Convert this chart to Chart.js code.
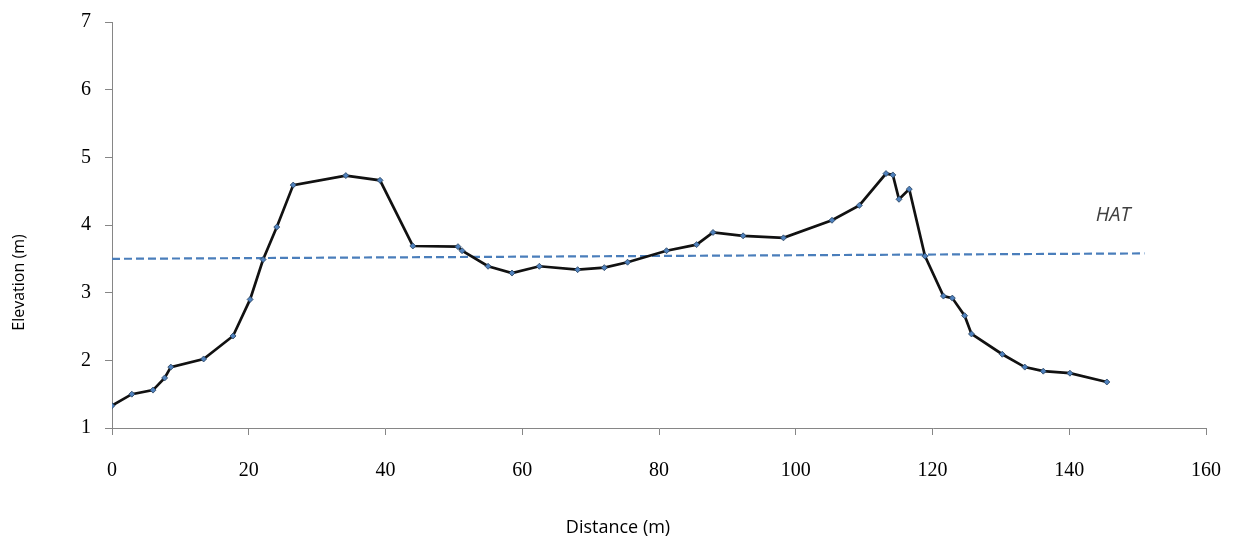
<!DOCTYPE html>
<html>
<head>
<meta charset="utf-8">
<script src="https://cdn.jsdelivr.net/npm/chart.js@4.4.1/dist/chart.umd.min.js"></script>
<style>
  body { margin: 0; background: #ffffff; }
  #wrap { width: 1236px; height: 543px; }
</style>
</head>
<body>
<div id="wrap"><canvas id="CHART1" width="1236" height="543"></canvas></div>
<script>
// DATA

// beach profile: distance (m) and elevation (m)
const distance = [0, 2.9, 6.0, 7.7, 8.6, 13.4, 17.7, 20.2, 22.1, 24.1, 26.5, 34.2, 39.2, 44.0,
    50.6, 51.2, 55.0, 58.5, 62.5, 68.1, 72.0, 75.4, 81.1, 85.5, 87.9, 92.3, 98.2,
    105.3, 109.3, 113.2, 114.2, 115.1, 116.6, 118.9, 121.6, 122.9, 124.7, 125.7,
    130.2, 133.5, 136.2, 140.1, 145.5];
const elevation = [1.33, 1.50, 1.56, 1.74, 1.90, 2.02, 2.36, 2.90, 3.49, 3.97, 4.59, 4.73, 4.66, 3.69,
    3.68, 3.62, 3.39, 3.29, 3.39, 3.34, 3.37, 3.45, 3.62, 3.71, 3.89, 3.84, 3.81,
    4.07, 4.29, 4.76, 4.74, 4.38, 4.53, 3.54, 2.95, 2.92, 2.66, 2.39,
    2.09, 1.90, 1.84, 1.81, 1.68];

// highest astronomical tide line
const hatDistance = [0, 151];
const hatElevation = [3.50, 3.58];
const hatLabel = "HAT";

// axes
const xTicks = [0, 20, 40, 60, 80, 100, 120, 140, 160];
const yTicks = [1, 2, 3, 4, 5, 6, 7];
const xTitle = "Distance (m)";
const yTitle = "Elevation (m)";

// CHART CREATION

const profilePoints = distance.map((d, i) => ({ x: d, y: elevation[i] }));
const hatPoints = hatDistance.map((d, i) => ({ x: d, y: hatElevation[i] }));

// writes the HAT label just above the right end of the dashed line
const hatLabelPlugin = {
    id: "hatLabel",
    afterDatasetsDraw(chart) {
        const ctx = chart.ctx;
        const xs = chart.scales.x;
        const ys = chart.scales.y;
        const px = xs.getPixelForValue(hatDistance[1]) - 14;
        const py = ys.getPixelForValue(hatElevation[1] + 0.57);
        ctx.save();
        ctx.font = "italic 20px 'Open Sans'";
        ctx.fillStyle = "#404040";
        ctx.textAlign = "right";
        ctx.textBaseline = "middle";
        ctx.fillText(hatLabel, px, py);
        ctx.restore();
    }
};

const axisColor = "#868686";
const tickFont = { family: "'Liberation Serif'", size: 20 };

// the axis titles sit in the chart's own title boxes, so they centre on the whole canvas
const chart1 = new Chart(document.getElementById("CHART1"), {
    type: "scatter",
    data: {
        datasets: [{
            label: "HAT",
            data: hatPoints,
            showLine: true,
            borderColor: "#4a7ebb",
            borderWidth: 2.2,
            borderDash: [8, 4],
            pointRadius: 0,
            order: 2,
        }, {
            label: "Profile",
            data: profilePoints,
            showLine: true,
            borderColor: "#111111",
            borderWidth: 2.7,
            pointStyle: "rectRot",
            pointRadius: 3,
            pointBackgroundColor: "#4f81bd",
            pointBorderColor: "#27415e",
            pointBorderWidth: 0.8,
            order: 1,
        }],
    },
    options: {
        responsive: false,
        animation: false,
        layout: { padding: { top: 22, right: 0, left: 0, bottom: 0 } },
        plugins: {
            legend: { display: false },
            tooltip: { enabled: false },
            title: {
                display: true,
                position: "bottom",
                text: xTitle,
                font: { family: "'Open Sans'", size: 18, weight: "normal", lineHeight: 1.2 },
                color: "#000000",
                padding: { top: 0, bottom: 4 },
            },
            subtitle: {
                display: true,
                position: "left",
                text: yTitle,
                font: { family: "'Open Sans'", size: 16, weight: "normal", lineHeight: 1.2 },
                color: "#000000",
                padding: { top: 10, bottom: 0 },
            },
        },
        scales: {
            x: {
                type: "linear",
                min: 0,
                max: 160,
                afterBuildTicks: (s) => { s.ticks = xTicks.map(v => ({ value: v })); },
                afterFit: (s) => {
                    s.height = 115 - 25.6;
                    s.paddingLeft = 0;
                    s.paddingRight = 30;
                },
                ticks: { font: tickFont, color: "#000000", padding: 24, maxRotation: 0 },
                grid: { display: true, drawOnChartArea: false, drawTicks: true, tickLength: 7, color: axisColor },
                border: { color: axisColor, width: 1 },
            },
            y: {
                type: "linear",
                min: 1,
                max: 7,
                afterBuildTicks: (s) => { s.ticks = yTicks.map(v => ({ value: v })); },
                afterFit: (s) => {
                    s.width = 112 - 29.2;
                    s.paddingTop = 0;
                    s.paddingBottom = 0;
                },
                ticks: { font: tickFont, color: "#000000", padding: 14 },
                grid: { display: true, drawOnChartArea: false, drawTicks: true, tickLength: 7, color: axisColor },
                border: { color: axisColor, width: 1 },
            },
        },
    },
    plugins: [hatLabelPlugin],
});
</script>
</body>
</html>
